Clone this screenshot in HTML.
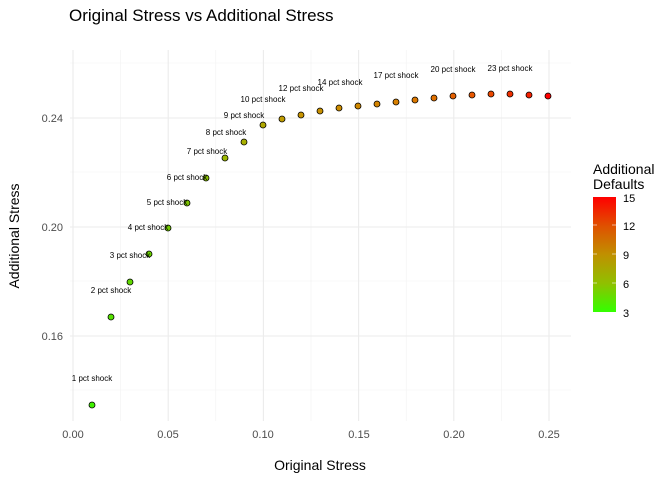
<!DOCTYPE html>
<html><head><meta charset="utf-8"><style>body{margin:0;background:#fff}svg{display:block}text{font-family:"Liberation Sans",sans-serif}</style></head><body>
<svg width="672" height="480" xmlns="http://www.w3.org/2000/svg">
<defs><linearGradient id="g" x1="0" y1="1" x2="0" y2="0">
<stop offset="0" stop-color="#33ff00"/><stop offset="0.25" stop-color="#90c000"/><stop offset="0.5" stop-color="#c09000"/><stop offset="0.75" stop-color="#e05000"/><stop offset="1" stop-color="#ff0000"/></linearGradient></defs>
<text x="69" y="21" font-size="17" fill="#000">Original Stress vs Additional Stress</text>
<g stroke="#f2f2f2" stroke-width="0.6">
<line x1="70" x2="571" y1="390" y2="390"/><line x1="70" x2="571" y1="281" y2="281"/><line x1="70" x2="571" y1="172" y2="172"/><line x1="70" x2="571" y1="63" y2="63"/>
<line x1="120.6" x2="120.6" y1="50" y2="421"/><line x1="215.8" x2="215.8" y1="50" y2="421"/><line x1="311" x2="311" y1="50" y2="421"/><line x1="406.2" x2="406.2" y1="50" y2="421"/><line x1="501.4" x2="501.4" y1="50" y2="421"/>
</g>
<g stroke="#ebebeb" stroke-width="1.1">
<line x1="70" x2="571" y1="336" y2="336"/><line x1="70" x2="571" y1="227" y2="227"/><line x1="70" x2="571" y1="118" y2="118"/>
<line x1="73" x2="73" y1="50" y2="421"/><line x1="168.2" x2="168.2" y1="50" y2="421"/><line x1="263.4" x2="263.4" y1="50" y2="421"/><line x1="358.6" x2="358.6" y1="50" y2="421"/><line x1="453.8" x2="453.8" y1="50" y2="421"/><line x1="549" x2="549" y1="50" y2="421"/>
</g>
<g font-size="11" fill="#4d4d4d" text-anchor="end"><text x="63" y="340">0.16</text><text x="63" y="231">0.20</text><text x="63" y="122">0.24</text></g>
<g font-size="11" fill="#4d4d4d" text-anchor="middle"><text x="73" y="438">0.00</text><text x="168" y="438">0.05</text><text x="263" y="438">0.10</text><text x="359" y="438">0.15</text><text x="454" y="438">0.20</text><text x="549" y="438">0.25</text></g>
<text x="320" y="470" font-size="14" text-anchor="middle">Original Stress</text>
<text transform="translate(19,236) rotate(-90)" font-size="14" text-anchor="middle">Additional Stress</text>
<g stroke="#000" stroke-width="0.8">
<circle cx="92" cy="405" r="3" fill="#40f000"/>
<circle cx="111" cy="317" r="3" fill="#55e000"/>
<circle cx="130" cy="282" r="3" fill="#60d800"/>
<circle cx="149" cy="254" r="3" fill="#6ad000"/>
<circle cx="168" cy="228" r="3" fill="#70c800"/>
<circle cx="187" cy="203" r="3" fill="#7ac000"/>
<circle cx="206" cy="178" r="3" fill="#88c000"/>
<circle cx="225" cy="158" r="3" fill="#9cb800"/>
<circle cx="244" cy="142" r="3" fill="#a8b000"/>
<circle cx="263" cy="125" r="3" fill="#b0a800"/>
<circle cx="282" cy="119" r="3" fill="#c09c00"/>
<circle cx="301" cy="115" r="3" fill="#c89400"/>
<circle cx="320" cy="111" r="3" fill="#c89000"/>
<circle cx="339" cy="108" r="3" fill="#cc8c00"/>
<circle cx="358" cy="106" r="3" fill="#d08800"/>
<circle cx="377" cy="104" r="3" fill="#d48400"/>
<circle cx="396" cy="102" r="3" fill="#d88000"/>
<circle cx="415" cy="100" r="3" fill="#dc7800"/>
<circle cx="434" cy="98" r="3" fill="#e07000"/>
<circle cx="453" cy="96" r="3" fill="#e46000"/>
<circle cx="472" cy="95" r="3" fill="#e85800"/>
<circle cx="491" cy="94" r="3" fill="#ec4800"/>
<circle cx="510" cy="94" r="3" fill="#f03000"/>
<circle cx="529" cy="95" r="3" fill="#f42000"/>
<circle cx="548" cy="96" r="3" fill="#ff0000"/>
</g>
<g font-size="8" fill="#000" text-anchor="middle">
<text x="92" y="381">1 pct shock</text><text x="111" y="293">2 pct shock</text><text x="130" y="258">3 pct shock</text><text x="148" y="230">4 pct shock</text><text x="167" y="205">5 pct shock</text><text x="187" y="180">6 pct shock</text><text x="207" y="154">7 pct shock</text><text x="226" y="135">8 pct shock</text><text x="244" y="118">9 pct shock</text><text x="263" y="102">10 pct shock</text><text x="301" y="91">12 pct shock</text><text x="340" y="85">14 pct shock</text><text x="396" y="78">17 pct shock</text><text x="453" y="72">20 pct shock</text><text x="510" y="71">23 pct shock</text>
</g>
<text x="593" y="174" font-size="14">Additional</text>
<text x="593" y="189" font-size="14">Defaults</text>
<rect x="593" y="197" width="23" height="115" fill="url(#g)"/>
<g stroke="#fff" stroke-width="0.8" opacity="0.7"><line x1="593" x2="597" y1="225" y2="225"/><line x1="612" x2="616" y1="225" y2="225"/><line x1="593" x2="597" y1="254" y2="254"/><line x1="612" x2="616" y1="254" y2="254"/><line x1="593" x2="597" y1="283" y2="283"/><line x1="612" x2="616" y1="283" y2="283"/></g>
<g font-size="11" fill="#000"><text x="623" y="202">15</text><text x="623" y="230">12</text><text x="623" y="259">9</text><text x="623" y="288">6</text><text x="623" y="317">3</text></g>
</svg>
</body></html>
